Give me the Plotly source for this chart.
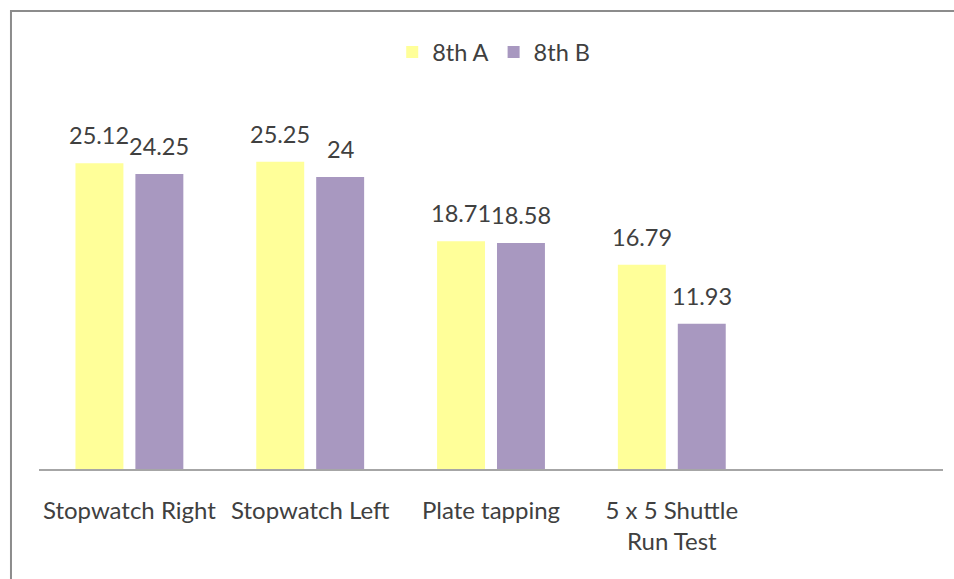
import plotly.graph_objects as go

categories = ["Stopwatch Right", "Stopwatch Left", "Plate tapping", "5 x 5 Shuttle<br>Run Test"]
series_names = ["8th A", "8th B"]
values_a = [25.12, 25.25, 18.71, 16.79]
values_b = [24.25, 24, 18.58, 11.93]
labels_a = ["25.12", "25.25", "18.71", "16.79"]
labels_b = ["24.25", "24", "18.58", "11.93"]

colors = ["#FFFF99", "#A898C0"]
FONT = "Lato"
TXT = "#404040"
BARGAP = 0.337
BARGROUPGAP = 0.2

fig = go.Figure()
for name, vals, col in zip(series_names, [values_a, values_b], colors):
    fig.add_trace(go.Bar(x=categories, y=vals, name=name, marker=dict(color=col, line=dict(width=0))))

off = (1 - BARGAP) / 4
for k, (vals, labs) in enumerate([(values_a, labels_a), (values_b, labels_b)]):
    sign = -1 if k == 0 else 1
    for i, (v, t) in enumerate(zip(vals, labs)):
        fig.add_annotation(x=i + sign * off, y=v, text=t, showarrow=False,
                           xref="x", yref="y", yanchor="bottom", yshift=12,
                           font=dict(family=FONT, size=23.5, color=TXT))

fig.add_shape(type="rect", xref="paper", yref="paper",
              x0=-0.031, x1=1.6, y0=-0.6, y1=1.2548,
              line=dict(color="#8c8c8c", width=2), fillcolor="rgba(0,0,0,0)", layer="below")

fig.update_layout(
    width=954, height=579,
    margin=dict(l=39, r=11, t=104, b=110, autoexpand=False),
    paper_bgcolor="white", plot_bgcolor="white",
    barmode="group", bargap=BARGAP, bargroupgap=BARGROUPGAP,
    font=dict(family=FONT, size=22, color=TXT),
    showlegend=True,
    legend=dict(orientation="h", x=0.503, xanchor="center", y=1.142, yanchor="middle",
                bgcolor="rgba(0,0,0,0)",
                font=dict(family=FONT, size=23.5, color=TXT), itemsizing="constant"),
    xaxis=dict(range=[-0.5, 4.5], showline=True, linecolor="#a6a6a6", linewidth=1.5,
               ticks="outside", ticklen=19, tickcolor="rgba(0,0,0,0)",
               tickfont=dict(family=FONT, size=24, color=TXT), showgrid=False, zeroline=False),
    yaxis=dict(range=[0, 30], visible=False, showgrid=False, zeroline=False),
)

fig.write_html("out.html", config={"displayModeBar": False},
               post_script="document.body.style.margin='0px';")
